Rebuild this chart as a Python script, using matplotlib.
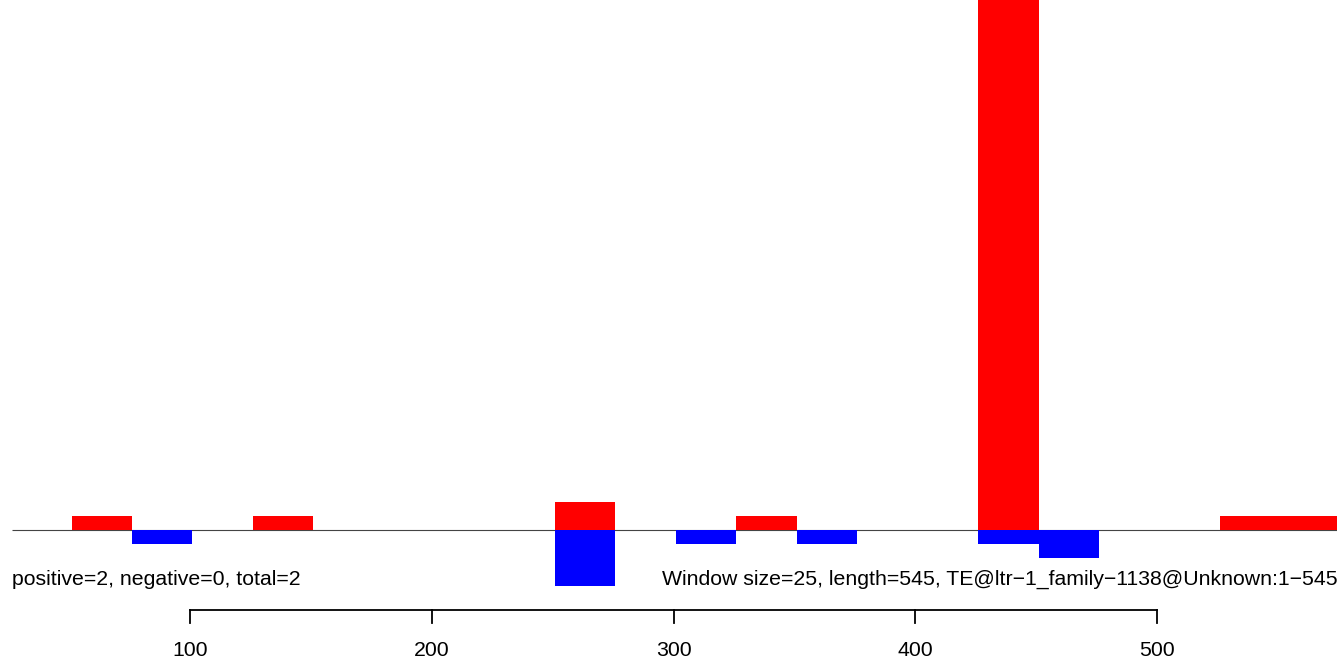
import numpy as np
import matplotlib.pyplot as plt

plt.rcParams['font.family'] = ['Liberation Sans', 'DejaVu Sans']

# window starts (window size 25, windows begin at 1, 26, 51, ...)
pos_start = [51, 126, 251, 326, 426, 526, 551]
pos_count = [1, 1, 2, 1, 45, 1, 1]
neg_start = [76, 251, 301, 351, 426, 451]
neg_count = [1, 4, 1, 1, 1, 2]
win = 25
tick_vals = [100, 200, 300, 400, 500]
info_left = "positive=2, negative=0, total=2"
info_right = "Window size=25, length=545, TE@ltr\u22121_family\u22121138@Unknown:1\u2212545"

fig = plt.figure(figsize=(13.37, 6.62), dpi=100)
ax = fig.add_axes([0, 0, 1, 1])
ax.set_xlim(21.4, 574.45)
ax.set_ylim(-9.43, 37.86)
ax.axis('off')

ax.hlines(0, 26.4, 580, color='#444444', linewidth=0.8, zorder=1)
ax.bar(pos_start, pos_count, width=win, align='edge', color='red', linewidth=0, zorder=2)
ax.bar(neg_start, [-c for c in neg_count], width=win, align='edge', color='blue', linewidth=0, zorder=2)

ax.text(26.4, -3.55, info_left, fontsize=15.3, ha='left', va='center')
ax.text(295.3, -3.55, info_right, fontsize=15.3, ha='left', va='center', clip_on=False)

# bottom axis, R style
y_ax = -5.71
ax.plot([tick_vals[0], tick_vals[-1]], [y_ax, y_ax], color='black', linewidth=1.3, clip_on=False)
for t in tick_vals:
    ax.plot([t, t], [y_ax, y_ax - 0.9], color='black', linewidth=1.3)
    ax.text(t, -8.6, str(t), fontsize=15.3, ha='center', va='center')

fig.savefig('out.png', dpi=100)
